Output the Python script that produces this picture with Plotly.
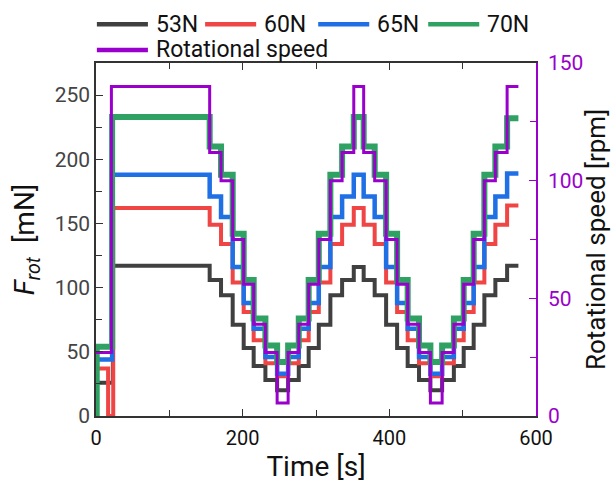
import plotly.graph_objects as go

# ---- data ----
seg_t = [0, 21, 155, 170.5, 186.4, 201.4, 215, 231, 247, 262, 276.5, 290, 303.8, 319.6,
         335.6, 351.5, 365, 380, 395.6, 410.6, 425, 440.5, 456, 472, 488, 501.4, 515,
         529.6, 544.6, 560.6, 576]

rpm = [27, 140, 112, 100, 75, 56, 39, 27, 5.5, 27, 39, 56, 75, 100, 112, 140,
       112, 100, 75, 56, 39, 27, 5.5, 27, 39, 56, 75, 100, 112, 140, 140]

f53_t = [0, 23] + seg_t[2:]
f53 = [26, 117, 106, 94, 71, 53, 39, 28, 20, 28, 39, 53, 71, 94, 106, 116,
       106, 94, 71, 53, 39, 28, 20, 28, 39, 53, 71, 94, 106, 117, 117]

f60_t = [0, 16.5, 23.5] + seg_t[2:]
f60 = [37, 0, 162, 149, 134, 104, 81, 59, 41, 31, 41, 59, 81, 104, 134, 149, 162,
       149, 134, 104, 81, 59, 41, 31, 41, 59, 81, 104, 134, 149, 164, 164]

f65_t = [0, 22] + seg_t[2:]
f65 = [44, 188, 171, 155, 116, 88, 68, 46, 33, 46, 68, 88, 116, 155, 171, 188,
       171, 155, 116, 88, 68, 46, 33, 46, 68, 88, 116, 155, 171, 189, 189]

f70_t = [0, 1, 22] + seg_t[2:]
f70 = [0, 54, 233, 210, 188, 142, 106, 76, 55, 42, 55, 76, 106, 142, 188, 210, 233,
       210, 188, 142, 106, 76, 55, 42, 55, 76, 106, 142, 188, 210, 232, 232]

names = ["53N", "60N", "65N", "70N", "Rotational speed"]
PURPLE = "#9A00CC"
colors = ["#404040", "#F04545", "#1F6FE5", "#2FA263", PURPLE]
widths = [4, 4, 4.5, 6, 3]
FONT = "Roboto"

fig = go.Figure()
for t, v, n, c, w in zip([f53_t, f60_t, f65_t, f70_t], [f53, f60, f65, f70], names, colors, widths):
    fig.add_trace(go.Scatter(x=t, y=v, name=n, mode="lines", showlegend=False,
                             line=dict(color=c, width=w, shape="hv")))
fig.add_trace(go.Scatter(x=seg_t, y=rpm, name=names[4], mode="lines", yaxis="y2", showlegend=False,
                         line=dict(color=PURPLE, width=3, shape="hv")))

# ---- legend drawn in paper coordinates (two rows above the plot) ----
leg_rows = [1.110, 1.037]
leg_y = [leg_rows[0]] * 4 + [leg_rows[1]]
leg_x0 = [0.002, 0.248, 0.505, 0.755, 0.002]
sym_len = 0.116
for n, c, x0, yy in zip(names, colors, leg_x0, leg_y):
    fig.add_shape(type="line", xref="paper", yref="paper", x0=x0, x1=x0 + sym_len, y0=yy, y1=yy,
                  line=dict(color=c, width=4.5))
    fig.add_annotation(xref="paper", yref="paper", x=x0 + sym_len + 0.016, y=yy, text=n,
                       showarrow=False, xanchor="left", yanchor="middle", borderpad=0,
                       font=dict(size=23, color="#111", family=FONT))

axis_common = dict(showgrid=False, zeroline=False, ticks="inside", showline=True, automargin=False)
fig.update_layout(
    width=611, height=486,
    margin=dict(l=96, r=75, t=63, b=70, autoexpand=False),
    paper_bgcolor="white", plot_bgcolor="white",
    font=dict(family=FONT, size=19, color="#222"),
    showlegend=False,
    xaxis=dict(range=[0, 600], dtick=200, tick0=0, ticklen=7, tickwidth=1.2,
               linecolor="#333", linewidth=1.5, mirror="ticks",
               minor=dict(dtick=100, ticks="inside", ticklen=6, tickwidth=1.2, tickcolor="#333"),
               tickcolor="#333", tickfont=dict(size=20, color="#111"), ticklabelstandoff=3,
               title=dict(text="Time [s]", font=dict(size=28, color="#111"), standoff=8),
               **axis_common),
    yaxis=dict(range=[0, 275], dtick=50, tick0=0, ticklen=7, tickwidth=1.2,
               linecolor="#333", linewidth=1.5, tickcolor="#333",
               minor=dict(dtick=25, ticks="inside", ticklen=6, tickwidth=1.2, tickcolor="#333"),
               tickfont=dict(size=21, color="#444"),
               title=dict(text="<i>F</i><sub><i>rot</i></sub>  [mN]", font=dict(size=28, color="#111"), standoff=12),
               **axis_common),
    yaxis2=dict(range=[0, 150], dtick=50, tick0=0, ticklen=7, tickwidth=1.2,
                overlaying="y", side="right",
                linecolor=PURPLE, linewidth=1.5, tickcolor=PURPLE,
                minor=dict(dtick=25, ticks="inside", ticklen=6, tickwidth=1.2, tickcolor=PURPLE),
                tickfont=dict(size=21, color=PURPLE), ticklabelstandoff=6,
                title=dict(text="Rotational speed [rpm]", font=dict(size=26, color="#111"), standoff=5),
                **axis_common),
)

fig.write_html("out.html", config={"displayModeBar": False})
# remove the default page margin so the figure sits at the window's top-left corner
with open("out.html", encoding="utf-8") as fh:
    html = fh.read()
html = html.replace("<head>", "<head><style>html,body{margin:0;padding:0;}</style>", 1)
with open("out.html", "w", encoding="utf-8") as fh:
    fh.write(html)
